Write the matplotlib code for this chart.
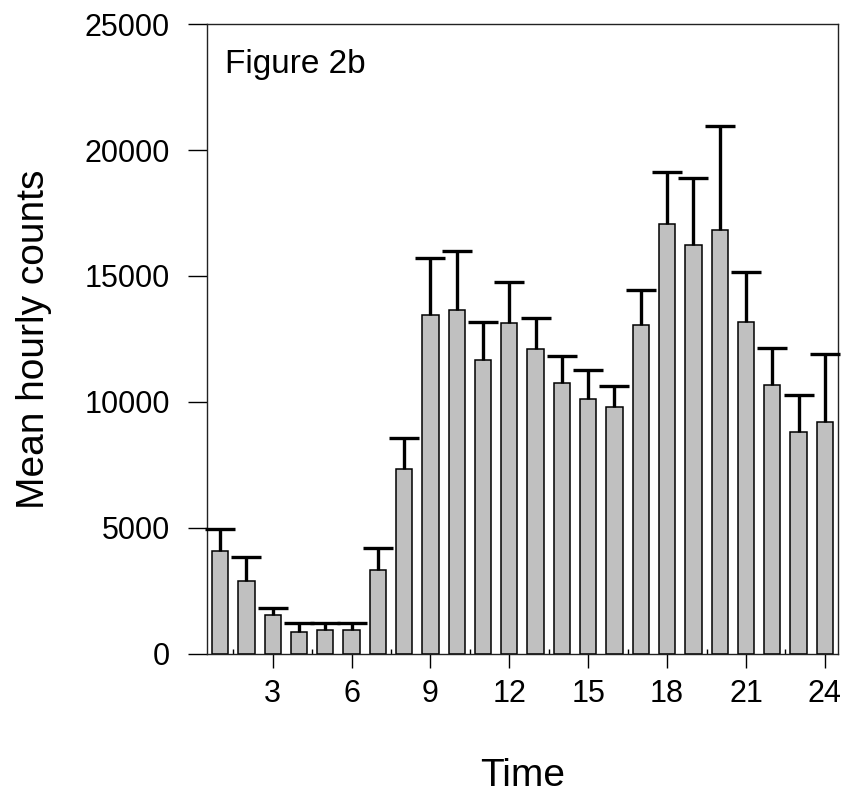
import numpy as np
import matplotlib
matplotlib.use("Agg")
import matplotlib.pyplot as plt
from matplotlib.ticker import FixedLocator

plt.rcParams['font.family'] = ['Liberation Sans', 'DejaVu Sans']

hours = np.arange(1, 25)
mean_counts = [4100, 2900, 1550, 890, 970, 970, 3330, 7350,
               13440, 13650, 11670, 13120, 12100, 10770, 10100, 9790,
               13060, 17060, 16240, 16840, 13190, 10680, 8820, 9220]
upper_err = [850, 950, 260, 350, 270, 270, 860, 1210,
             2260, 2350, 1520, 1630, 1220, 1070, 1150, 860,
             1370, 2050, 2650, 4120, 1970, 1450, 1450, 2670]
major_ticks = [3, 6, 9, 12, 15, 18, 21, 24]
minor_ticks = [1.5, 4.5, 7.5, 10.5, 13.5, 16.5, 19.5, 22.5]
y_ticks = [0, 5000, 10000, 15000, 20000, 25000]

fig = plt.figure(figsize=(8.49, 7.95), dpi=100)
ax = fig.add_axes([0.2438, 0.1774, 0.7432, 0.7924])

ax.bar(hours, mean_counts, width=0.62, color='#c0c0c0', edgecolor='black',
       linewidth=1.1, zorder=2)

# upper-only error bars: stem from bar top, cap only at the top
tops = np.array(mean_counts) + np.array(upper_err)
ax.errorbar(hours, mean_counts, yerr=[np.zeros(len(upper_err)), upper_err],
            fmt='none', ecolor='black', elinewidth=2.4, capsize=0, zorder=3)
ax.plot(hours, tops, linestyle='none', marker='_', markersize=22,
        markeredgewidth=2.4, color='black', zorder=3, clip_on=False)

ax.set_xlim(0.5, 24.5)
ax.set_ylim(0, 25000)

ax.xaxis.set_major_locator(FixedLocator(major_ticks))
ax.xaxis.set_minor_locator(FixedLocator(minor_ticks))
ax.set_yticks(y_ticks)

ax.tick_params(axis='x', which='major', direction='out', length=10, width=1.0,
               labelsize=22, pad=8)
ax.tick_params(axis='x', which='minor', direction='in', length=3.6, width=1.0)
ax.tick_params(axis='y', which='major', direction='out', length=13.7, width=1.0,
               labelsize=22, pad=13)

for s in ax.spines.values():
    s.set_linewidth(1.0)
    s.set_color('#222222')

ax.set_ylabel('Mean hourly counts', fontsize=28)
ax.set_xlabel('Time', fontsize=28)
ax.yaxis.set_label_coords(-0.245, 0.5)
ax.xaxis.set_label_coords(0.5, -0.165)

ax.text(0.0285, 0.922, 'Figure 2b', transform=ax.transAxes, fontsize=24,
        ha='left', va='baseline')

fig.savefig('out.png', dpi=100)
